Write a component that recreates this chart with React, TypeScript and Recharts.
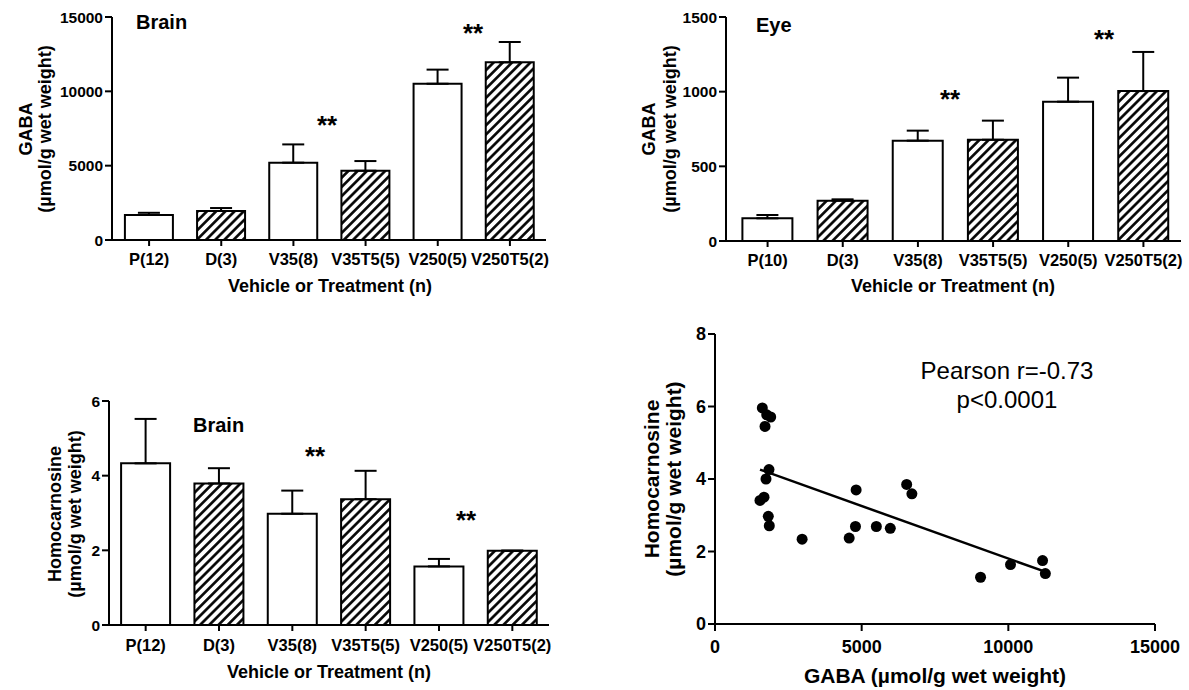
import { BarChart, Bar, Cell, XAxis, YAxis, ErrorBar, ScatterChart, Scatter, ReferenceLine } from 'recharts';

const FONT = '"Liberation Sans", Arial, Helvetica, sans-serif';

// groups (n in brackets)
const brainGroups = ['P(12)', 'D(3)', 'V35(8)', 'V35T5(5)', 'V250(5)', 'V250T5(2)'];
const eyeGroups = ['P(10)', 'D(3)', 'V35(8)', 'V35T5(5)', 'V250(5)', 'V250T5(2)'];
const hatchedGroup = [false, true, false, true, false, true];

// brain GABA, mean and SEM
const brainGabaMean = [1680, 1950, 5200, 4660, 10510, 11950];
const brainGabaSem = [150, 200, 1230, 650, 950, 1370];

// eye GABA
const eyeGabaMean = [152, 270, 672, 678, 933, 1004];
const eyeGabaSem = [22, 9, 67, 128, 161, 262];

// brain homocarnosine
const homoMean = [4.33, 3.79, 2.98, 3.37, 1.57, 1.99];
const homoSem = [1.19, 0.41, 0.62, 0.76, 0.2, 0];

// scatter: brain GABA vs homocarnosine
const scatterGaba = [1613, 1763, 1899, 1705, 1841, 1739, 1534, 1671, 1817, 1851, 2970, 4574, 4788, 4811, 5500, 5976, 6534, 6712, 9053, 10074, 11167, 11262];
const scatterHomo = [5.96, 5.77, 5.71, 5.45, 4.26, 4.0, 3.41, 3.5, 2.97, 2.71, 2.34, 2.37, 2.69, 3.7, 2.69, 2.64, 3.85, 3.59, 1.29, 1.64, 1.75, 1.39];
const fitGaba = [1534, 11226];
const fitHomo = [4.26, 1.45];

const gabaBrainTicks = [0, 5000, 10000, 15000];
const gabaEyeTicks = [0, 500, 1000, 1500];
const homoTicks = [0, 2, 4, 6];
const scatterXTicks = [0, 5000, 10000, 15000];
const scatterYTicks = [0, 2, 4, 6, 8];

function makeRows(groups: string[], mean: number[], sem: number[]) {
  return groups.map((g, i) => ({ name: g, value: mean[i], err: [0, sem[i]], hatched: hatchedGroup[i] }));
}

const axisLine = { stroke: '#000', strokeWidth: 2 };
const tickStyle = (size: number) => ({ fill: '#000', fontSize: size, fontWeight: 'bold', fontFamily: FONT });

interface PanelProps {
  id: string;
  rows: { name: string; value: number; err: number[]; hatched: boolean }[];
  left: number;
  top: number;
  width: number;
  height: number;
  marginTop: number;
  marginRight: number;
  yAxisWidth: number;
  xAxisHeight: number;
  yTicks: number[];
  xPad: number;
  xTickMargin: number;
}

function BarPanel(p: PanelProps) {
  return (
    <div style={{ position: 'absolute', left: p.left, top: p.top }}>
      <BarChart
        width={p.width}
        height={p.height}
        data={p.rows}
        margin={{ top: p.marginTop, right: p.marginRight, left: 0, bottom: 0 }}
        barCategoryGap="16.5%"
      >
        <defs>
          <pattern id={p.id} patternUnits="userSpaceOnUse" width={6.5} height={6.5} patternTransform="rotate(45)">
            <rect width={6.5} height={6.5} fill="#fff" />
            <line x1={3.25} y1={0} x2={3.25} y2={6.5} stroke="#000" strokeWidth={2.6} />
          </pattern>
        </defs>
        <XAxis
          dataKey="name"
          interval={0}
          height={p.xAxisHeight}
          padding={{ left: p.xPad, right: 0 }}
          tick={tickStyle(16.5)}
          tickSize={6}
          tickMargin={p.xTickMargin}
          axisLine={axisLine}
          tickLine={axisLine}
        />
        <YAxis
          width={p.yAxisWidth}
          domain={[0, p.yTicks[p.yTicks.length - 1]]}
          ticks={p.yTicks}
          interval={0}
          tick={tickStyle(15.5)}
          tickSize={7}
          tickMargin={2}
          axisLine={axisLine}
          tickLine={axisLine}
        />
        <Bar dataKey="value" stroke="#000" strokeWidth={2} isAnimationActive={false}>
          {p.rows.map((r) => (
            <Cell key={r.name} fill={r.hatched ? `url(#${p.id})` : '#fff'} />
          ))}
          <ErrorBar dataKey="err" direction="y" width={11} stroke="#000" strokeWidth={2} isAnimationActive={false} />
        </Bar>
      </BarChart>
    </div>
  );
}

const scatterRows = scatterGaba.map((x, i) => ({ x, y: scatterHomo[i] }));
const fitRows = fitGaba.map((x, i) => ({ x, y: fitHomo[i] }));

function Dot(props: any) {
  return <circle cx={props.cx} cy={props.cy} r={5.5} fill="#000" />;
}

function Overlay() {
  const bold = { fontFamily: FONT, fontWeight: 'bold' as const, fill: '#000' };
  const star = { ...bold, fontSize: 26, textAnchor: 'middle' as const };
  const yTitle = (x: number, y: number, s: string, size: number) => (
    <text x={x} y={y} transform={`rotate(-90 ${x} ${y})`} textAnchor="middle" {...bold} fontSize={size}>
      {s}
    </text>
  );
  return (
    <svg width={1189} height={690} style={{ position: 'absolute', left: 0, top: 0, pointerEvents: 'none' }}>
      {/* top left */}
      <text x={136} y={29} {...bold} fontSize={20}>Brain</text>
      <text x={327} y={134} {...star}>**</text>
      <text x={473} y={42} {...star}>**</text>
      <text x={330} y={292} textAnchor="middle" {...bold} fontSize={18}>Vehicle or Treatment (n)</text>
      {yTitle(32, 129, 'GABA', 18)}
      {yTitle(51, 129, '(µmol/g wet weight)', 18)}

      {/* top right */}
      <text x={756} y={32} {...bold} fontSize={20}>Eye</text>
      <text x={950} y={108} {...star}>**</text>
      <text x={1104} y={48} {...star}>**</text>
      <text x={953} y={292} textAnchor="middle" {...bold} fontSize={18}>Vehicle or Treatment (n)</text>
      {yTitle(655, 129, 'GABA', 18)}
      {yTitle(676, 129, '(µmol/g wet weight)', 18)}

      {/* bottom left */}
      <text x={193} y={432} {...bold} fontSize={20}>Brain</text>
      <text x={315} y={465} {...star}>**</text>
      <text x={466} y={529} {...star}>**</text>
      <text x={329} y={678} textAnchor="middle" {...bold} fontSize={18}>Vehicle or Treatment (n)</text>
      {yTitle(61, 514, 'Homocarnosine', 18)}
      {yTitle(81, 514, '(µmol/g wet weight)', 18)}

      {/* bottom right */}
      <text x={1007} y={379} textAnchor="middle" fontFamily={FONT} fontSize={24} fill="#000">Pearson r=-0.73</text>
      <text x={1007} y={408} textAnchor="middle" fontFamily={FONT} fontSize={24} fill="#000">p&lt;0.0001</text>
      <text x={935} y={683} textAnchor="middle" {...bold} fontSize={21}>GABA (µmol/g wet weight)</text>
      {yTitle(659, 479, 'Homocarnosine', 21)}
      {yTitle(681, 479, '(µmol/g wet weight)', 21)}
    </svg>
  );
}

export default function App() {
  return (
    <div style={{ position: 'absolute', left: 0, top: 0, width: 1189, height: 690, background: '#fff', overflow: 'hidden' }}>
      <BarPanel
        id="hatchBrain"
        rows={makeRows(brainGroups, brainGabaMean, brainGabaSem)}
        left={0}
        top={0}
        width={570}
        height={300}
        marginTop={17}
        marginRight={24}
        yAxisWidth={112}
        xAxisHeight={60}
        yTicks={gabaBrainTicks}
        xPad={1}
        xTickMargin={7}
      />
      <BarPanel
        id="hatchEye"
        rows={makeRows(eyeGroups, eyeGabaMean, eyeGabaSem)}
        left={600}
        top={0}
        width={589}
        height={300}
        marginTop={17}
        marginRight={8}
        yAxisWidth={126}
        xAxisHeight={59}
        yTicks={gabaEyeTicks}
        xPad={4}
        xTickMargin={7}
      />
      <BarPanel
        id="hatchHomo"
        rows={makeRows(brainGroups, homoMean, homoSem)}
        left={0}
        top={370}
        width={570}
        height={320}
        marginTop={31}
        marginRight={21}
        yAxisWidth={109}
        xAxisHeight={65}
        yTicks={homoTicks}
        xPad={0}
        xTickMargin={8}
      />
      <div style={{ position: 'absolute', left: 640, top: 320 }}>
        <ScatterChart width={549} height={370} margin={{ top: 14, right: 34, left: 0, bottom: 0 }}>
          <XAxis
            type="number"
            dataKey="x"
            domain={[0, 15000]}
            ticks={scatterXTicks}
            interval={0}
            height={66}
            tick={tickStyle(18)}
            tickSize={7}
            tickMargin={9}
            axisLine={axisLine}
            tickLine={axisLine}
          />
          <YAxis
            type="number"
            dataKey="y"
            domain={[0, 8]}
            ticks={scatterYTicks}
            interval={0}
            width={75}
            tick={tickStyle(18)}
            tickSize={7}
            tickMargin={2}
            axisLine={axisLine}
            tickLine={axisLine}
          />
          <ReferenceLine
            segment={[fitRows[0], fitRows[1]]}
            stroke="#000"
            strokeWidth={2.5}
          />
          <Scatter data={scatterRows} shape={Dot} isAnimationActive={false} />
        </ScatterChart>
      </div>
      <Overlay />
    </div>
  );
}
